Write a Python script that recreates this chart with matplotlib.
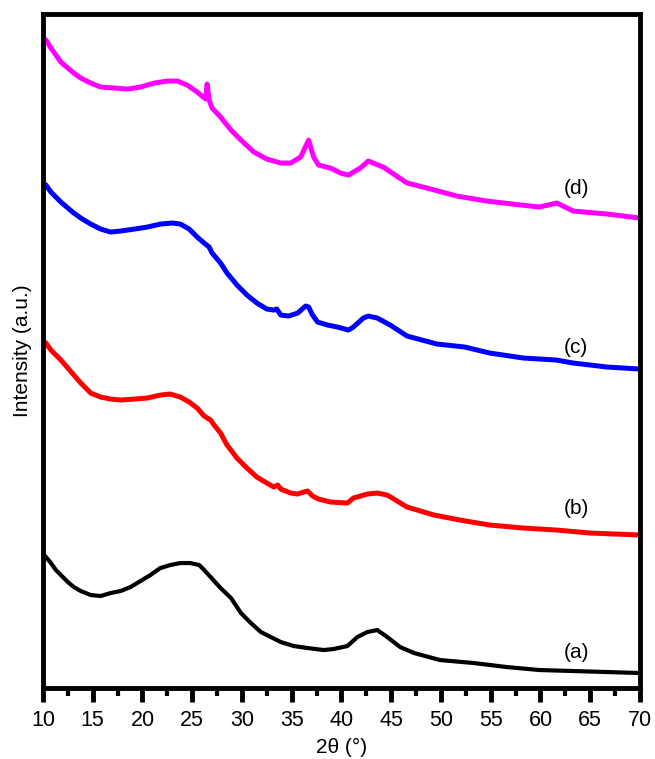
import numpy as np
import matplotlib
matplotlib.use('Agg')
from matplotlib import pyplot as plt
from matplotlib.ticker import MultipleLocator

# 2theta (deg) / intensity (a.u.)
x_a = [10.3, 10.8, 11.3, 11.8, 12.5, 13.1, 13.8, 14.8, 15.8, 16.8, 17.8, 18.8, 19.8, 20.8, 21.8, 22.8, 23.8, 24.8, 25.7,
       26.2, 26.85, 27.85, 28.9, 29.9, 30.9, 31.9, 32.9, 33.9, 35.2, 36.6, 38.2, 39.2, 40.6, 41.6, 42.6, 43.6, 44.6,
       45.9, 47.3, 49.9, 53.3, 56.6, 59.9, 63.3, 66.7, 70.0]
y_a = [131, 125, 118, 113, 106, 101, 97, 93, 92, 95, 97, 101, 107, 113, 120, 123, 125, 125, 123,
       118, 111, 100, 90, 75, 65, 56, 51, 46, 42, 40, 38, 39, 42, 51, 56, 58, 51,
       41, 35, 28, 25, 21, 18, 17, 16, 15]

x_b = [10.0, 10.3, 10.8, 11.3, 11.8, 12.5, 13.1, 13.8, 14.8, 15.8, 16.8, 17.8, 19.2, 20.5, 21.8, 22.8, 23.8, 24.7, 25.5,
       26.2, 26.85, 27.2, 27.85, 28.5, 29.5, 30.5, 31.5, 32.5, 33.2, 33.6, 33.9, 34.9, 35.6, 36.2, 36.6, 37.1, 37.7,
       38.9, 40.6, 41.2, 42.6, 43.6, 44.6, 46.6, 49.3, 51.9, 54.9, 58.3, 61.6, 65.0, 70.0]
y_b = [347, 345, 338, 333, 328, 320, 313, 305, 295, 291, 289, 288, 289, 290, 293, 294, 291, 286, 280,
       272, 268, 263, 255, 243, 230, 220, 211, 205, 201, 203, 199, 195, 194, 196, 197, 192, 189,
       186, 185, 190, 194, 195, 193, 181, 173, 168, 163, 160, 158, 155, 153]

x_c = [10.0, 10.3, 10.8, 11.3, 11.8, 12.5, 13.1, 13.8, 14.8, 15.8, 16.8, 17.8, 19.2, 20.5, 21.8, 23.0, 23.8, 24.7, 25.5,
       26.2, 26.7, 26.85, 27.0, 27.85, 28.5, 29.5, 30.5, 31.5, 32.5, 33.2, 33.5, 33.9, 34.7, 35.6, 36.4, 36.7, 37.1,
       37.6, 38.6, 39.6, 40.7, 41.2, 42.2, 42.7, 43.6, 44.9, 46.6, 49.6, 52.4, 54.9, 58.3, 61.6, 63.3, 66.7, 70.0]
y_c = [505, 503, 496, 491, 486, 480, 475, 470, 464, 459, 456, 457, 459, 461, 464, 465, 464, 459, 451,
       445, 441, 438, 435, 425, 415, 403, 393, 385, 379, 378, 379, 373, 372, 375, 382, 381, 373,
       366, 363, 361, 358, 361, 370, 372, 370, 363, 352, 344, 341, 335, 330, 328, 325, 321, 319]

x_d = [10.0, 10.3, 10.8, 11.3, 11.8, 12.5, 13.1, 13.8, 14.8, 15.8, 17.2, 18.5, 19.8, 21.2, 22.5, 23.5, 24.5, 25.5, 26.35,
       26.5, 26.7, 27.0, 27.85, 28.9, 29.9, 31.2, 32.5, 33.9, 34.9, 35.9, 36.7, 37.2, 37.7, 38.9, 39.9, 40.7, 41.9,
       42.7, 44.2, 46.6, 48.6, 51.6, 54.6, 57.2, 59.9, 61.65, 63.3, 66.7, 70.0]
y_d = [650, 648, 640, 633, 626, 620, 615, 610, 605, 601, 600, 599, 601, 605, 607, 607, 603, 596, 589,
       604, 588, 580, 571, 558, 548, 536, 529, 525, 525, 531, 548, 531, 523, 520, 515, 513, 520,
       527, 521, 505, 500, 492, 487, 484, 481, 485, 477, 474, 470]

labels = ['(a)', '(b)', '(c)', '(d)']
label_y = [36, 180, 341, 500]

plt.rcParams['font.family'] = ['Liberation Sans', 'DejaVu Sans']

fig = plt.figure(figsize=(6.55, 7.59), dpi=100)
ax = fig.add_axes([0.0656, 0.0935, 0.9114, 0.888])

ax.plot(x_a, y_a, color='black', lw=3.0)
ax.plot(x_b, y_b, color='#ff0000', lw=3.6)
ax.plot(x_c, y_c, color='#0000ff', lw=3.6)
ax.plot(x_d, y_d, color='#ff00ff', lw=3.6)

for lab, ly in zip(labels, label_y):
    ax.text(63.6, ly, lab, fontsize=15, ha='center', va='center')

ax.set_xlim(10, 70)
ax.set_ylim(0, 674)
ax.set_yticks([])
ax.xaxis.set_major_locator(MultipleLocator(5))
ax.xaxis.set_minor_locator(MultipleLocator(2.5))
ax.tick_params(axis='x', which='major', direction='out', length=10, width=3.5, labelsize=15.5, pad=6)
ax.tick_params(axis='x', which='minor', direction='out', length=6, width=3)
for sp in ax.spines.values():
    sp.set_linewidth(3.5)

ax.set_xlabel('2θ (°)', fontsize=15, labelpad=5)
ax.set_ylabel('Intensity (a.u.)', fontsize=15, labelpad=8)

plt.savefig('out.png', format='png')
